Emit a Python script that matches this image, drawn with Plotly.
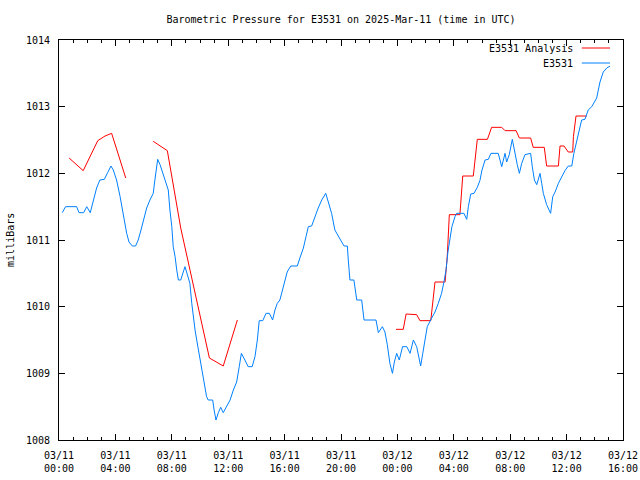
import pandas as pd
import plotly.graph_objects as go

# ---- data (minutes after 2025-03-11 00:00 UTC, pressure in mb) ----
blue_min = [14, 28, 75, 85, 105, 118, 133, 146, 160, 174,
            193, 207, 221, 231, 245, 260, 274, 288, 298, 312,
            326, 337, 349, 359, 373, 387, 401, 408, 416, 420,
            430, 444, 458, 465, 472, 480, 486, 494, 501, 508,
            518, 526, 536, 543, 557, 565, 571, 579, 586, 593,
            600, 607, 614, 621, 628, 635, 654, 660, 668, 678,
            688, 699, 713, 728, 742, 756, 767, 776, 791, 805,
            822, 834, 844, 852, 867, 881, 895, 909, 919, 929,
            940, 948, 962, 971, 986, 1014, 1025, 1040, 1051, 1061,
            1075, 1089, 1103, 1118, 1135, 1146, 1160, 1174, 1184, 1203,
            1213, 1227, 1231, 1238, 1255, 1267, 1288, 1298, 1349, 1359,
            1376, 1387, 1397, 1408, 1419, 1427, 1437, 1448, 1462, 1480,
            1494, 1508, 1522, 1533, 1539, 1548, 1557, 1567, 1586, 1600,
            1614, 1628, 1638, 1647, 1655, 1664, 1672, 1685, 1692, 1723,
            1735, 1742, 1752, 1766, 1780, 1791, 1800, 1813, 1827, 1838,
            1869, 1884, 1898, 1905, 1916, 1929, 1940, 1950, 1959, 1969,
            1983, 2007, 2014, 2023, 2033, 2040, 2047, 2054, 2061, 2075,
            2085, 2092, 2101, 2111, 2125, 2139, 2153, 2167, 2182, 2191,
            2203, 2214, 2224, 2238, 2252, 2267, 2288, 2302, 2316, 2331, 2345]
blue_mb = [1011.41, 1011.50, 1011.50, 1011.41, 1011.41, 1011.50, 1011.41, 1011.60, 1011.78, 1011.90,
           1011.91, 1012.01, 1012.11, 1012.05, 1011.90, 1011.65, 1011.35, 1011.10, 1010.97, 1010.91,
           1010.91, 1011.00, 1011.15, 1011.30, 1011.48, 1011.60, 1011.70, 1011.90, 1012.17, 1012.21,
           1012.13, 1011.98, 1011.85, 1011.75, 1011.45, 1011.20, 1010.90, 1010.75, 1010.55, 1010.40,
           1010.40, 1010.50, 1010.60, 1010.52, 1010.35, 1010.05, 1009.85, 1009.65, 1009.50, 1009.35,
           1009.20, 1009.10, 1008.95, 1008.80, 1008.65, 1008.60, 1008.60, 1008.45, 1008.30, 1008.41,
           1008.49, 1008.41, 1008.50, 1008.60, 1008.75, 1008.87, 1009.10, 1009.30, 1009.20, 1009.10,
           1009.10, 1009.25, 1009.50, 1009.79, 1009.79, 1009.90, 1009.90, 1009.80, 1009.95, 1010.05,
           1010.10, 1010.22, 1010.40, 1010.52, 1010.61, 1010.61, 1010.73, 1010.88, 1011.05, 1011.20,
           1011.21, 1011.35, 1011.48, 1011.60, 1011.70, 1011.57, 1011.40, 1011.15, 1011.08, 1010.97,
           1010.91, 1010.91, 1010.70, 1010.40, 1010.40, 1010.10, 1010.10, 1009.80, 1009.80, 1009.61,
           1009.70, 1009.62, 1009.43, 1009.15, 1009.00, 1009.17, 1009.30, 1009.20, 1009.40, 1009.40,
           1009.30, 1009.50, 1009.40, 1009.20, 1009.11, 1009.30, 1009.50, 1009.70, 1009.83, 1009.92,
           1010.05, 1010.20, 1010.37, 1010.55, 1010.82, 1011.05, 1011.20, 1011.35, 1011.40, 1011.40,
           1011.31, 1011.50, 1011.69, 1011.70, 1011.79, 1011.89, 1012.05, 1012.20, 1012.21, 1012.30,
           1012.30, 1012.10, 1012.30, 1012.17, 1012.28, 1012.51, 1012.30, 1012.13, 1012.00, 1012.15,
           1012.28, 1012.30, 1012.10, 1011.90, 1011.83, 1011.90, 1012.00, 1011.85, 1011.70, 1011.53,
           1011.45, 1011.40, 1011.65, 1011.72, 1011.85, 1011.95, 1012.04, 1012.11, 1012.11, 1012.30,
           1012.50, 1012.68, 1012.80, 1012.81, 1012.95, 1013.00, 1013.13, 1013.37, 1013.52, 1013.58, 1013.61]

red_min = [43, 103, 165, 196, 224, 284, None,
           401, 461, 518, 578, 640, 699, 759, None,
           1434, 1465, 1477, 1522, 1536, 1582, 1600, 1643, 1652, 1661, 1706,
           1718, 1763, 1780, 1823, 1841, 1884, 1898, 1945, 1959, 2007,
           2018, 2065, 2075, 2125, 2132, 2149, 2167, 2186, 2189, 2200, 2246]
red_mb = [1012.23, 1012.04, 1012.49, 1012.56, 1012.60, 1011.93, None,
          1012.48, 1012.34, 1011.18, 1010.22, 1009.23, 1009.11, 1009.80, None,
          1009.66, 1009.66, 1009.89, 1009.88, 1009.79, 1009.79, 1010.37, 1010.37, 1010.75, 1011.38, 1011.38,
          1011.96, 1011.96, 1012.51, 1012.51, 1012.69, 1012.69, 1012.64, 1012.64, 1012.53, 1012.53,
          1012.39, 1012.39, 1012.11, 1012.11, 1012.41, 1012.41, 1012.32, 1012.32, 1012.55, 1012.86, 1012.86]

tick_times = ["2025-03-11 00:00", "2025-03-11 04:00", "2025-03-11 08:00", "2025-03-11 12:00",
              "2025-03-11 16:00", "2025-03-11 20:00", "2025-03-12 00:00", "2025-03-12 04:00",
              "2025-03-12 08:00", "2025-03-12 12:00", "2025-03-12 16:00"]
tick_labels = ["03/11<br>00:00", "03/11<br>04:00", "03/11<br>08:00", "03/11<br>12:00",
               "03/11<br>16:00", "03/11<br>20:00", "03/12<br>00:00", "03/12<br>04:00",
               "03/12<br>08:00", "03/12<br>12:00", "03/12<br>16:00"]
y_ticks = [1008, 1009, 1010, 1011, 1012, 1013, 1014]

series_names = ["E3531 Analysis", "E3531"]
series_colors = ["#ff0000", "#0080ff"]

base = pd.Timestamp("2025-03-11 00:00")
def to_time(mins):
    return [None if m is None else base + pd.Timedelta(minutes=m) for m in mins]

FONT = "DejaVu Sans Mono"
W, H = 640, 480

fig = go.Figure()
fig.add_trace(go.Scatter(x=to_time(red_min), y=red_mb, mode="lines", name=series_names[0],
                         line=dict(color=series_colors[0], width=1), connectgaps=False, showlegend=False))
fig.add_trace(go.Scatter(x=to_time(blue_min), y=blue_mb, mode="lines", name=series_names[1],
                         line=dict(color=series_colors[1], width=1), showlegend=False))

# gnuplot-style legend: text right-aligned, line sample to the right
for i, (nm, col) in enumerate(zip(series_names, series_colors)):
    yy = 0.98 - i * 0.0375
    fig.add_annotation(x=0.915, y=yy, xref="paper", yref="paper", text=nm, showarrow=False,
                       xanchor="right", yanchor="middle", font=dict(family=FONT, size=10, color="black"))
    fig.add_shape(type="line", xref="paper", yref="paper", x0=0.927, x1=0.977, y0=yy, y1=yy,
                  line=dict(color=col, width=1))

fig.add_annotation(x=-0.087, y=0.5, xref="paper", yref="paper", text="milliBars", showarrow=False,
                   textangle=-90, xanchor="center", yanchor="middle",
                   font=dict(family=FONT, size=10, color="black"))

fig.update_layout(
    width=W, height=H,
    margin=dict(l=59, r=17, t=40, b=40, autoexpand=False),
    paper_bgcolor="white", plot_bgcolor="white",
    title=dict(text="Barometric Pressure for E3531 on 2025-Mar-11 (time in UTC)",
               xref="paper", x=0.5, xanchor="center", y=1 - 19 / H, yanchor="middle",
               font=dict(family=FONT, size=10, color="black")),
    font=dict(family=FONT, size=10, color="black"),
    xaxis=dict(type="date", range=[tick_times[0], tick_times[-1]], automargin=False,
               tickmode="array", tickvals=tick_times, ticktext=tick_labels,
               ticks="inside", ticklen=6, tickcolor="black", tickwidth=1, ticklabelstandoff=6,
               minor=dict(ticks="inside", ticklen=3, dtick=3600000, tickcolor="black", showgrid=False),
               showline=True, linecolor="black", linewidth=1, mirror="ticks",
               showgrid=False, zeroline=False, tickfont=dict(family=FONT, size=10)),
    yaxis=dict(range=[1008, 1014], tickvals=y_ticks, ticks="inside", ticklen=6, automargin=False,
               tickcolor="black", tickwidth=1, ticklabelstandoff=6,
               showline=True, linecolor="black", linewidth=1, mirror="ticks",
               showgrid=False, zeroline=False, tickfont=dict(family=FONT, size=10)),
)

fig.write_html("out.html", config={"displayModeBar": False},
               post_script="document.body.style.margin='0';document.body.style.overflow='hidden';")
